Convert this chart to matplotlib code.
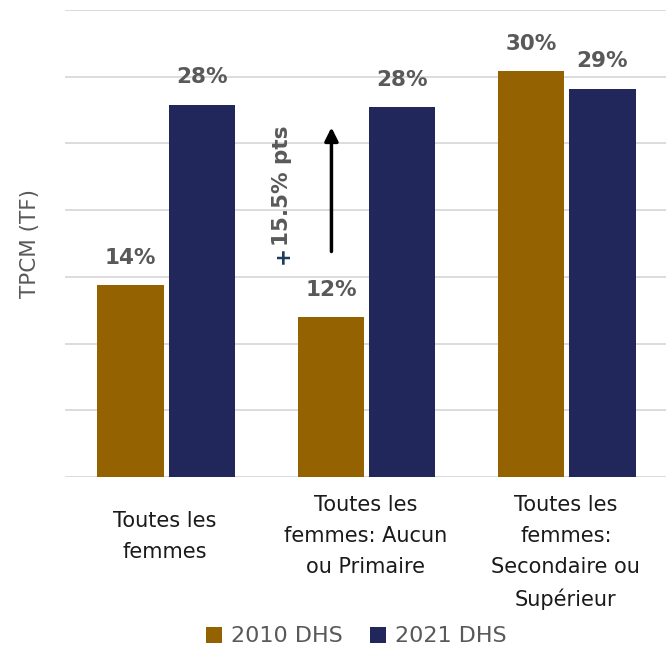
import matplotlib.pyplot as plt
import numpy as np

categories = ["Toutes les\nfemmes",
              "Toutes les\nfemmes: Aucun\nou Primaire",
              "Toutes les\nfemmes:\nSecondaire ou\nSupérieur"]
v2010 = [14.4, 12.0, 30.4]
v2021 = [27.9, 27.7, 29.1]
lab2010 = ["14%", "12%", "30%"]
lab2021 = ["28%", "28%", "29%"]

brown = "#946200"
navy = "#21275A"
grey = "#595959"

fig = plt.figure(figsize=(6.66, 6.47), dpi=100)
ax = fig.add_axes([65 / 666, 1 - 477 / 647, 601 / 666, 467 / 647])

x = np.arange(len(categories))
w = 0.33
b1 = ax.bar(x - 0.165 - 0.008, v2010, w, color=brown, label="2010 DHS")
b2 = ax.bar(x + 0.165 + 0.018, v2021, w, color=navy, label="2021 DHS")

for rect, t in zip(b1, lab2010):
    ax.text(rect.get_x() + rect.get_width() / 2, rect.get_height() + 1.3, t,
            ha="center", va="bottom", fontsize=15.5, fontweight="bold", color=grey)
for rect, t in zip(b2, lab2021):
    ax.text(rect.get_x() + rect.get_width() / 2, rect.get_height() + 1.3, t,
            ha="center", va="bottom", fontsize=15.5, fontweight="bold", color=grey)

ax.set_xlim(-0.5, 2.5)
ax.set_ylim(0, 35)
ax.set_yticks(np.arange(0, 36, 5))
ax.yaxis.grid(True, color="#d9d9d9", linewidth=1.3)
ax.set_axisbelow(True)
ax.tick_params(left=False, labelleft=False, bottom=False, labelbottom=False)
for s in ax.spines.values():
    s.set_visible(False)

# category labels under the bars
tops = [-0.072, -0.038, -0.038]
for i, c in enumerate(categories):
    ax.text(i, tops[i], c, transform=ax.get_xaxis_transform(), ha="center",
            va="top", fontsize=15, color="#1a1a1a", linespacing=1.68)

ax.set_ylabel("TPCM (TF)", fontsize=15.5, color=grey, labelpad=18)

# change annotation
ax.annotate("", xy=(0.83, 26.2), xytext=(0.83, 16.9),
            arrowprops=dict(arrowstyle="-|>", color="black", lw=2.5,
                            mutation_scale=20, shrinkA=0, shrinkB=0))
ax.text(0.585, 16.0, "+", rotation=90, ha="center", va="bottom",
        fontsize=15.5, fontweight="bold", color="#1f3a5a")
ax.text(0.585, 17.35, "15.5% pts", rotation=90, ha="center", va="bottom",
        fontsize=15.5, fontweight="bold", color=grey)

fig.legend(loc="lower center", bbox_to_anchor=(0.535, -0.03), ncol=2,
           frameon=False, fontsize=16, handlelength=0.75, handleheight=0.75,
           handletextpad=0.4, columnspacing=1.2, labelcolor=grey)

fig.savefig("out.png", dpi=100)
